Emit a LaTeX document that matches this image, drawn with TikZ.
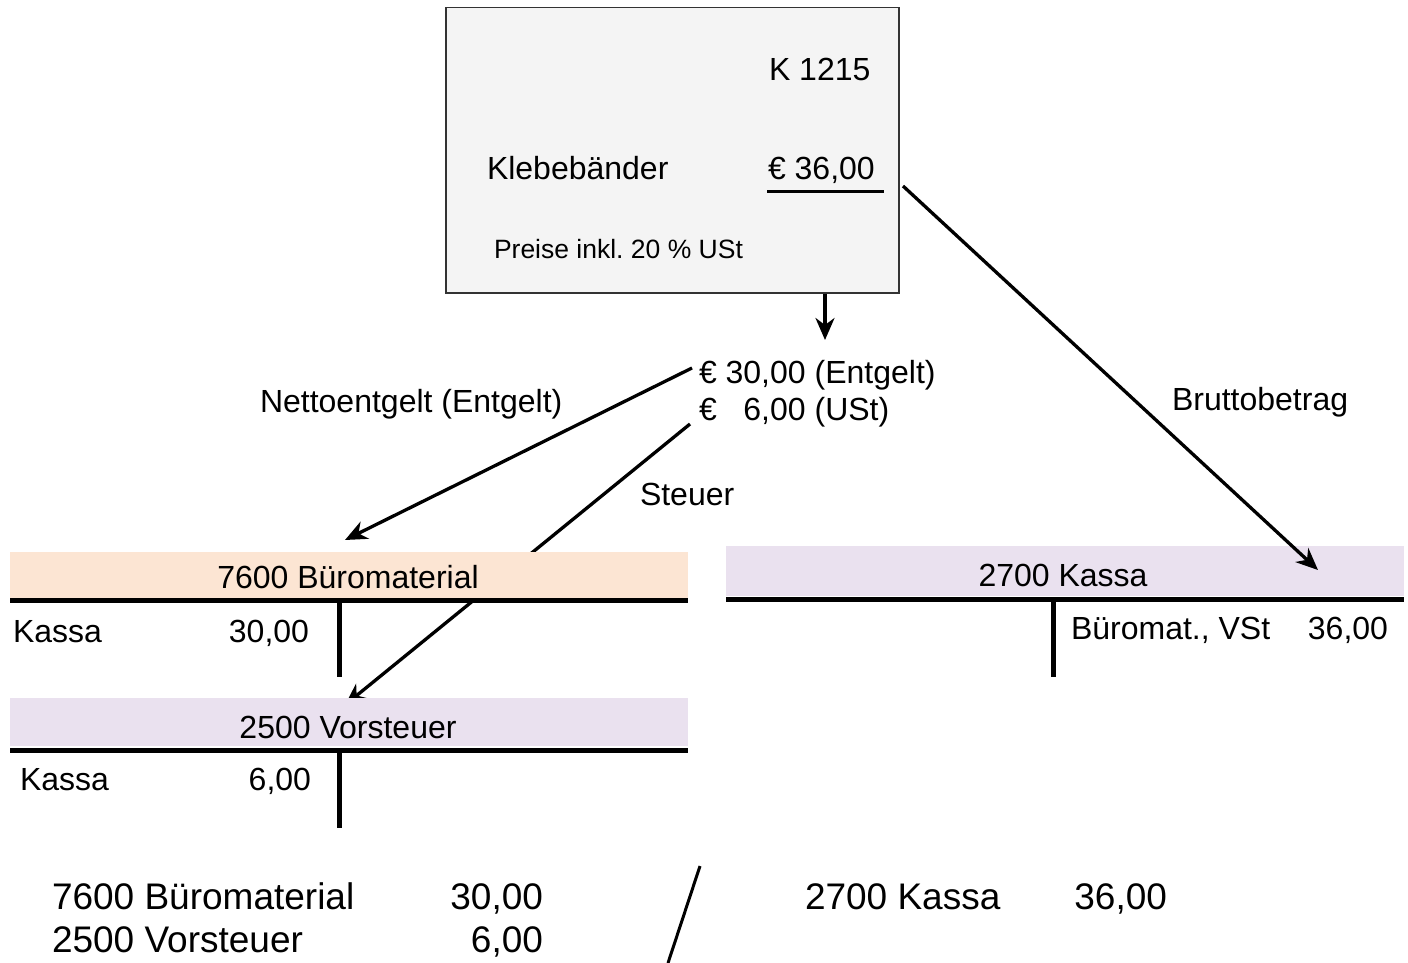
\documentclass[tikz,border=0pt]{standalone}
\usepackage{fontspec}
\setmainfont{Liberation Sans}
\usetikzlibrary{arrows.meta}
\definecolor{boxgray}{HTML}{F4F4F4}
\definecolor{boxline}{HTML}{333333}
\definecolor{peach}{HTML}{FCE5D3}
\definecolor{lav}{HTML}{EAE1EF}
\begin{document}
\begin{tikzpicture}[x=1pt,y=-1pt,
  txt/.style={inner sep=0pt, outer sep=0pt, font=\fontsize{32}{38}\selectfont},
  big/.style={inner sep=0pt, outer sep=0pt, font=\fontsize{37}{44}\selectfont},
  small/.style={inner sep=0pt, outer sep=0pt, font=\fontsize{26.5}{32}\selectfont},
  conn/.style={line width=3.3pt, -{Stealth[length=22pt,width=19pt,inset=7pt]}},
  tline/.style={line width=5pt},
  band/.style={draw=none, inner sep=0pt, outer sep=0pt, minimum width=678pt, anchor=north west}]
\useasboundingbox (0,0) rectangle (1408,963);

% receipt
\node[draw=boxline, line width=1.5pt, fill=boxgray, minimum width=453pt, minimum height=285pt, anchor=north west, inner sep=0pt] (rcpt) at (445,7) {};
\node[txt, anchor=base west] (kno) at (769,81) {K 1215};
\node[txt, anchor=base west] (kleb) at (487,179.5) {Klebebänder};
\node[txt, anchor=base west] (amt) at (768,179.5) {€ 36,00};
\node[small, anchor=base west] (preise) at (494,258.5) {Preise inkl.\ 20 \% USt};
\coordinate (ulA) at (767,191);
\coordinate (ulB) at (884,191);
\draw[line width=3pt] (ulA) -- (ulB);

% split amounts
\node[txt, anchor=base west] (e30) at (699,383.5) {€ 30,00 (Entgelt)};
\node[txt, anchor=base west] (e6) at (699,420.5) {€ \phantom{3}6,00 (USt)};
\node[txt, anchor=base west] (lnetto) at (260,412.5) {Nettoentgelt (Entgelt)};
\node[txt, anchor=base west] (lbrutto) at (1172,410.5) {Bruttobetrag};
\node[txt, anchor=base west] (lsteuer) at (640,505.5) {Steuer};

% arrow endpoints
\coordinate (d1) at (825,340);
\coordinate (nS) at (692,368);
\coordinate (nE) at (345,540);
\coordinate (sS) at (690,424);
\coordinate (sE) at (345,705);
\coordinate (bS) at (903,186);
\coordinate (bE) at (1318,570);

\draw[conn] (d1 |- rcpt.south) -- (d1);
\draw[conn] (nS) -- (nE);
\draw[conn] (sS) -- (sE);

% account 7600
\node[band, fill=peach, minimum height=46pt] (b7600) at (10,552) {};
\node[txt, anchor=base] (h7600) at (348,588.5) {7600 Büromaterial};
\draw[tline] (10,600) -- (688,600);
\draw[tline] (339,600) -- (339,677);
\node[txt, anchor=base west] (k7600) at (13,642.5) {Kassa};
\node[txt, anchor=base east] (v7600) at (309,642.5) {30,00};

% account 2500
\node[band, fill=lav, minimum height=48pt] (b2500) at (10,698) {};
\node[txt, anchor=base] (h2500) at (348,738.5) {2500 Vorsteuer};
\draw[tline] (10,750) -- (688,750);
\draw[tline] (339,750) -- (339,828);
\node[txt, anchor=base west] (k2500) at (20,790.5) {Kassa};
\node[txt, anchor=base east] (v2500) at (311,790.5) {6,00};

% account 2700
\node[band, fill=lav, minimum height=50pt] (b2700) at (726,546) {};
\node[txt, anchor=base] (h2700) at (1063,586.5) {2700 Kassa};
\draw[tline] (726,599) -- (1404,599);
\draw[tline] (1053,599) -- (1053,677);
\node[txt, anchor=base west] (k2700) at (1071,639.5) {Büromat., VSt};
\node[txt, anchor=base east] (v2700) at (1388,639.5) {36,00};

\draw[conn] (bS) -- (bE);

% booking entry
\node[big, anchor=base west] (r1) at (52,909) {7600 Büromaterial};
\node[big, anchor=base east] (r1v) at (543,909) {30,00};
\node[big, anchor=base west] (r2) at (52,952) {2500 Vorsteuer};
\node[big, anchor=base east] (r2v) at (543,952) {6,00};
\node[big, anchor=base west] (r3) at (805,909) {2700 Kassa};
\node[big, anchor=base east] (r3v) at (1167,909) {36,00};
\coordinate (slA) at (700,866);
\coordinate (slB) at (668,963);
\draw[line width=3pt] (slA) -- (slB);
\end{tikzpicture}
\end{document}
